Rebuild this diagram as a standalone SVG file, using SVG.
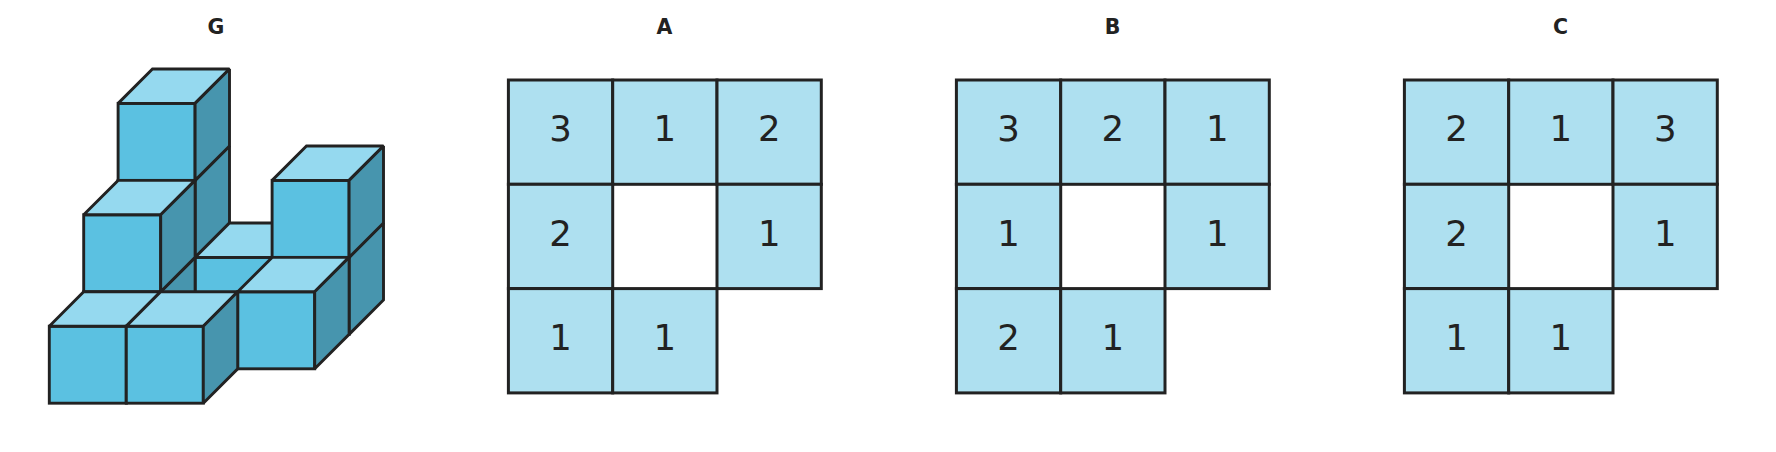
<svg xmlns="http://www.w3.org/2000/svg" width="1776" height="452" viewBox="0 0 1776 452">
<style>
text{font-family:"DejaVu Sans",sans-serif;fill:#222;text-anchor:middle}
.t{font-size:20.5px;font-weight:700}
.n{font-size:35.5px}
.c{fill:#aee0f0;stroke:#222;stroke-width:3}
.f{fill:#5bc1e1}.o{fill:#95d9ef}.r{fill:#4795ae}
.f,.o,.r{stroke:#222;stroke-width:2.9;stroke-linejoin:miter;stroke-miterlimit:1.5}
</style>
<defs>
<g id="cube">
<rect class="f" width="77" height="77"/>
<polygon class="o" points="0,0 34.4,-34.4 111.4,-34.4 77,0"/>
<polygon class="r" points="77,0 111.4,-34.4 111.4,42.6 77,77"/>
</g>
<rect id="cell" class="c" width="104.3" height="104.3"/>
</defs>
<rect width="1776" height="452" fill="#fff"/>
<g id="G">
<text class="t" x="216" y="33.5">G</text>
<use href="#cube" x="118.1" y="257.4"/>
<use href="#cube" x="118.1" y="180.4"/>
<use href="#cube" x="118.1" y="103.4"/>
<use href="#cube" x="195.1" y="257.4"/>
<use href="#cube" x="272.1" y="257.4"/>
<use href="#cube" x="272.1" y="180.4"/>
<use href="#cube" x="83.7" y="291.8"/>
<use href="#cube" x="83.7" y="214.8"/>
<use href="#cube" x="237.7" y="291.8"/>
<use href="#cube" x="49.3" y="326.2"/>
<use href="#cube" x="126.3" y="326.2"/>
</g>
<g id="A">
<text class="t" x="664.5" y="33.5">A</text>
<use href="#cell" x="508.4" y="80"/><use href="#cell" x="612.7" y="80"/><use href="#cell" x="717" y="80"/>
<use href="#cell" x="508.4" y="184.3"/><use href="#cell" x="717" y="184.3"/>
<use href="#cell" x="508.4" y="288.6"/><use href="#cell" x="612.7" y="288.6"/>
<text class="n" x="560.6" y="141">3</text><text class="n" x="664.9" y="141">1</text><text class="n" x="769.2" y="141">2</text>
<text class="n" x="560.6" y="245.5">2</text><text class="n" x="769.2" y="245.5">1</text>
<text class="n" x="560.6" y="349.6">1</text><text class="n" x="664.9" y="349.6">1</text>
</g>
<g id="B">
<text class="t" x="1112.5" y="33.5">B</text>
<use href="#cell" x="956.4" y="80"/><use href="#cell" x="1060.7" y="80"/><use href="#cell" x="1165" y="80"/>
<use href="#cell" x="956.4" y="184.3"/><use href="#cell" x="1165" y="184.3"/>
<use href="#cell" x="956.4" y="288.6"/><use href="#cell" x="1060.7" y="288.6"/>
<text class="n" x="1008.6" y="141">3</text><text class="n" x="1112.9" y="141">2</text><text class="n" x="1217.2" y="141">1</text>
<text class="n" x="1008.6" y="245.5">1</text><text class="n" x="1217.2" y="245.5">1</text>
<text class="n" x="1008.6" y="349.6">2</text><text class="n" x="1112.9" y="349.6">1</text>
</g>
<g id="C">
<text class="t" x="1560.5" y="33.5">C</text>
<use href="#cell" x="1404.4" y="80"/><use href="#cell" x="1508.7" y="80"/><use href="#cell" x="1613" y="80"/>
<use href="#cell" x="1404.4" y="184.3"/><use href="#cell" x="1613" y="184.3"/>
<use href="#cell" x="1404.4" y="288.6"/><use href="#cell" x="1508.7" y="288.6"/>
<text class="n" x="1456.6" y="141">2</text><text class="n" x="1560.9" y="141">1</text><text class="n" x="1665.2" y="141">3</text>
<text class="n" x="1456.6" y="245.5">2</text><text class="n" x="1665.2" y="245.5">1</text>
<text class="n" x="1456.6" y="349.6">1</text><text class="n" x="1560.9" y="349.6">1</text>
</g>
</svg>
